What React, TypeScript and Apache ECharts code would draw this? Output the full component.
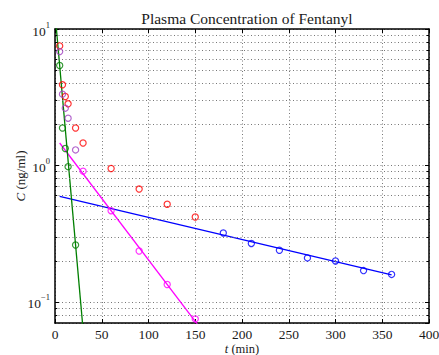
import React, { useEffect, useRef } from 'react';
import * as echarts from 'echarts';

// ---- data ----
const titleText = 'Plasma Concentration of Fentanyl';
const xTicks = [0, 50, 100, 150, 200, 250, 300, 350, 400];
const yMinorGrid = [0.08, 0.09, 0.2, 0.3, 0.4, 0.5, 0.6, 0.7, 0.8, 0.9, 2, 3, 4, 5, 6, 7, 8, 9];

const redT = [5, 8, 11, 14, 22, 30, 60, 90, 120, 150];
const redC = [7.52, 3.9, 3.2, 2.83, 1.88, 1.46, 0.95, 0.671, 0.52, 0.419];
const purpleT = [5, 8, 11, 14, 22];
const purpleC = [6.83, 3.33, 2.63, 2.22, 1.3];
const greenT = [5, 8, 11, 14, 22];
const greenC = [5.4, 1.88, 1.33, 0.98, 0.261];
const magentaT = [30, 60, 90, 120, 150];
const magentaC = [0.908, 0.466, 0.236, 0.134, 0.075];
const blueT = [180, 210, 240, 270, 300, 330, 360];
const blueC = [0.32, 0.268, 0.239, 0.21, 0.1995, 0.1695, 0.159];

const blueFitT = [5, 360];
const blueFitC = [0.594, 0.158];
const magentaFitT = [5, 155];
const magentaFitC = [1.46, 0.0648];
const greenFitT = [0, 30];
const greenFitC = [13.1, 0.063];

const SERIF = '"Liberation Serif", "Times New Roman", serif';
const TXT = '#1a1a1a';

const pairs = (t: number[], c: number[]) => t.map((v, i) => [v, c[i]]);

function scatter(name: string, t: number[], c: number[], color: string) {
  return {
    name,
    type: 'scatter',
    data: pairs(t, c),
    symbol: 'circle',
    symbolSize: 6.2,
    itemStyle: { color: 'rgba(0,0,0,0)', borderColor: color, borderWidth: 1.2 },
    z: 5,
    silent: true,
  };
}

function fit(name: string, t: number[], c: number[], color: string) {
  return {
    name,
    type: 'line',
    data: pairs(t, c),
    showSymbol: false,
    symbol: 'none',
    lineStyle: { color, width: 1.3 },
    clip: true,
    z: 4,
    silent: true,
  };
}

export default function App() {
  const ref = useRef<HTMLDivElement>(null);
  useEffect(() => {
    const chart = echarts.init(ref.current!, null, { renderer: 'svg' });
    const xMax = xTicks[xTicks.length - 1];
    const minorTickData: any[] = [];
    yMinorGrid.forEach((v) => {
      minorTickData.push([{ coord: [0, v] }, { coord: [2.4, v] }]);
      minorTickData.push([{ coord: [xMax - 2.4, v] }, { coord: [xMax, v] }]);
    });
    const option: any = {
      animation: false,
      backgroundColor: '#fff',
      title: {
        text: titleText,
        left: 242,
        textAlign: 'center',
        top: 5,
        textStyle: { fontFamily: SERIF, fontSize: 15.5, fontWeight: 'normal', color: TXT },
      },
      grid: { left: 55, right: 10, top: 29, bottom: 32, containLabel: false, outerBoundsMode: 'none' },
      xAxis: [
        {
          type: 'value',
          min: xTicks[0],
          max: xMax,
          interval: 50,
          position: 'bottom',
          axisLine: { show: true, onZero: false, lineStyle: { color: '#000', width: 1.5 } },
          axisTick: { show: true, inside: true, length: 4, lineStyle: { color: '#000', width: 1 } },
          axisLabel: { fontFamily: SERIF, fontSize: 13.5, lineHeight: 13, color: TXT, margin: 5 },
          splitLine: { show: true, lineStyle: { type: [1, 2.5], color: '#777', width: 1 } },
          name: '{i|t} (min)',
          nameLocation: 'middle',
          nameGap: 19,
          nameMoveOverlap: false,
          nameTextStyle: {
            fontFamily: SERIF,
            fontSize: 12.5,
            lineHeight: 13,
            color: TXT,
            rich: { i: { fontStyle: 'italic', fontFamily: SERIF, fontSize: 12.5, lineHeight: 13, color: TXT } },
          },
        },
        {
          type: 'value',
          min: xTicks[0],
          max: xMax,
          interval: 50,
          position: 'top',
          axisLine: { show: true, onZero: false, lineStyle: { color: '#000', width: 1.5 } },
          axisTick: { show: true, inside: true, length: 4, lineStyle: { color: '#000', width: 1 } },
          axisLabel: { show: false },
          splitLine: { show: false },
        },
      ],
      yAxis: [
        {
          type: 'log',
          logBase: 10,
          min: 0.07,
          max: 10,
          position: 'left',
          axisLine: { show: true, onZero: false, lineStyle: { color: '#000', width: 1.5 } },
          axisTick: { show: true, inside: true, length: 4, lineStyle: { color: '#000', width: 1 } },
          axisLabel: {
            margin: 5,
            showMinLabel: false,
            formatter: (v: number) => {
              const l = Math.log10(v);
              const e = Math.round(l);
              if (Math.abs(l - e) > 1e-6) return '';
              return `{b|10}{s|${e < 0 ? '\u2212' + -e : e}}`;
            },
            rich: {
              b: { fontFamily: SERIF, fontSize: 13.5, color: TXT, verticalAlign: 'bottom', lineHeight: 18 },
              s: { fontFamily: SERIF, fontSize: 8.5, color: TXT, verticalAlign: 'top', lineHeight: 18 },
            },
          },
          splitLine: { show: true, lineStyle: { type: [1, 2.5], color: '#777', width: 1 } },
          name: '{i|C} (ng/ml)',
          nameLocation: 'middle',
          nameGap: 28,
          nameMoveOverlap: false,
          nameTextStyle: {
            fontFamily: SERIF,
            fontSize: 13,
            color: TXT,
            rich: { i: { fontStyle: 'italic', fontFamily: SERIF, fontSize: 13, color: TXT } },
          },
        },
        {
          type: 'log',
          logBase: 10,
          min: 0.07,
          max: 10,
          position: 'right',
          axisLine: { show: true, onZero: false, lineStyle: { color: '#000', width: 1.5 } },
          axisTick: { show: true, inside: true, length: 4, lineStyle: { color: '#000', width: 1 } },
          axisLabel: { show: false },
          splitLine: { show: false },
        },
      ],
      series: [
        {
          name: 'grid-minor',
          type: 'line',
          data: [],
          silent: true,
          markLine: {
            silent: true,
            symbol: 'none',
            label: { show: false },
            emphasis: { disabled: true },
            lineStyle: { type: [1, 2.5], color: '#777', width: 1 },
            data: yMinorGrid.map((v) => ({ yAxis: v })),
          },
          z: 1,
        },
        {
          name: 'minor-ticks',
          type: 'line',
          data: [],
          silent: true,
          markLine: {
            silent: true,
            symbol: 'none',
            label: { show: false },
            emphasis: { disabled: true },
            lineStyle: { type: 'solid', color: '#000', width: 1 },
            data: minorTickData,
          },
          z: 2,
        },
        fit('blueFit', blueFitT, blueFitC, '#0000ff'),
        fit('magentaFit', magentaFitT, magentaFitC, '#ff00ff'),
        fit('greenFit', greenFitT, greenFitC, '#007f00'),
        scatter('red', redT, redC, '#ff0000'),
        scatter('purple', purpleT, purpleC, '#a040c0'),
        scatter('green', greenT, greenC, '#007f00'),
        scatter('magenta', magentaT, magentaC, '#ff00ff'),
        scatter('blue', blueT, blueC, '#0000ff'),
      ],
    };
    chart.setOption(option);
    return () => chart.dispose();
  }, []);
  return (
    <div
      ref={ref}
      style={{ position: 'fixed', left: 0, top: 0, width: 439, height: 355, background: '#fff' }}
    />
  );
}
